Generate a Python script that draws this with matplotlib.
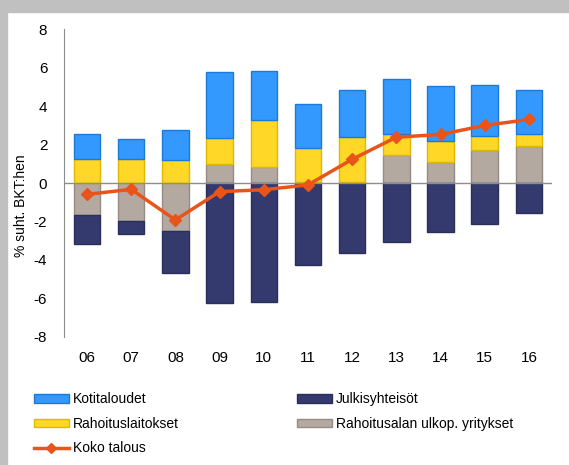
import numpy as np
import matplotlib
matplotlib.use("Agg")
import matplotlib.pyplot as plt
from matplotlib.patches import Rectangle
from matplotlib.lines import Line2D

plt.rcParams['font.family'] = ['Liberation Sans', 'DejaVu Sans']
plt.rcParams['axes.unicode_minus'] = False

years = ['06', '07', '08', '09', '10', '11', '12', '13', '14', '15', '16']
kotitaloudet = [1.29, 1.05, 1.54, 3.42, 2.56, 2.31, 2.47, 2.84, 2.88, 2.65, 2.27]
rahoituslaitokset = [1.26, 1.26, 1.19, 1.35, 2.43, 1.78, 2.33, 1.12, 1.08, 0.73, 0.65]
ulkop_yritykset = [-1.67, -1.97, -2.49, 1.00, 0.83, 0.03, 0.05, 1.43, 1.10, 1.71, 1.92]
julkisyhteisot = [-1.51, -0.69, -2.21, -6.25, -6.17, -4.25, -3.66, -3.06, -2.57, -2.11, -1.57]
koko_talous = [-0.59, -0.33, -1.92, -0.45, -0.35, -0.10, 1.23, 2.38, 2.52, 2.99, 3.30]

c_blue, e_blue = '#3399FF', '#1A7AD6'
c_navy, e_navy = '#343A6E', '#2A2F5A'
c_yel, e_yel = '#FFD726', '#E0B800'
c_gray, e_gray = '#B3A9A1', '#978C84'
c_orange = '#E8541A'

fig = plt.figure(figsize=(5.69, 4.65), dpi=100)
# grey frame around the panel
fig.patches.append(Rectangle((0, 1 - 12 / 465), 1, 12 / 465, transform=fig.transFigure,
                             color='#C0C0C0', zorder=0))
fig.patches.append(Rectangle((0, 0), 7 / 569, 1, transform=fig.transFigure,
                             color='#C0C0C0', zorder=0))

ax = fig.add_axes([0.1125, 0.2753, 0.8575, 0.6623])
x = np.arange(len(years))
w = 0.6

pos_base = np.zeros(len(years))
neg_base = np.zeros(len(years))
series = [(ulkop_yritykset, c_gray, e_gray), (julkisyhteisot, c_navy, e_navy),
          (rahoituslaitokset, c_yel, e_yel), (kotitaloudet, c_blue, e_blue)]
for vals, fc, ec in series:
    vals = np.array(vals)
    base = np.where(vals >= 0, pos_base, neg_base)
    ax.bar(x, vals, w, bottom=base, color=fc, edgecolor=ec, linewidth=1, zorder=2)
    pos_base += np.where(vals >= 0, vals, 0)
    neg_base += np.where(vals < 0, vals, 0)

ax.axhline(0, color='#8C8C8C', linewidth=1, zorder=3)
ax.plot(x, koko_talous, color=c_orange, linewidth=2.5, marker='D', markersize=6,
        zorder=4)

ax.set_xlim(-0.52, 10.52)
ax.set_ylim(-8, 8)
ax.set_yticks(range(-8, 9, 2))
ax.set_xticks(x)
ax.set_xticklabels(years)
ax.tick_params(axis='both', length=0, labelsize=11, colors='black')
ax.tick_params(axis='y', pad=12)
ax.tick_params(axis='x', pad=10)
for s in ['top', 'right', 'bottom']:
    ax.spines[s].set_visible(False)
ax.spines['left'].set_color('#8C8C8C')
ax.set_ylabel('% suht. BKT:hen', fontsize=10)
ax.yaxis.set_label_coords(-0.074, 0.425)

handles = [Rectangle((0, 0), 1, 1, fc=c_blue, ec=e_blue),
           Rectangle((0, 0), 1, 1, fc=c_yel, ec=e_yel),
           Line2D([], [], color=c_orange, linewidth=2.5, marker='D', markersize=5),
           Rectangle((0, 0), 1, 1, fc=c_navy, ec=e_navy),
           Rectangle((0, 0), 1, 1, fc=c_gray, ec=e_gray)]
labels = ['Kotitaloudet', 'Rahoituslaitokset', 'Koko talous',
          'Julkisyhteisöt', 'Rahoitusalan ulkop. yritykset']
fig.legend(handles, labels, loc='upper left', bbox_to_anchor=(0.05, 0.168),
           ncol=2, frameon=False, fontsize=10, handlelength=2.5, handleheight=0.55,
           handletextpad=0.3, columnspacing=8.5, labelspacing=0.75,
           borderaxespad=0)

fig.savefig('out.png', dpi=100)
